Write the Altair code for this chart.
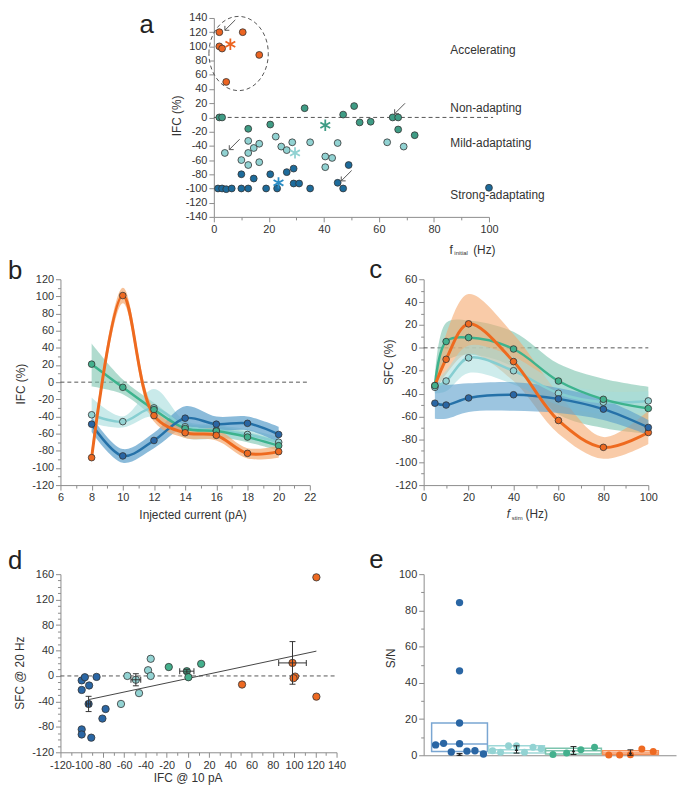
import altair as alt
import pandas as pd

FONT = "Liberation Sans"
TXT = "#333333"
AXC = "#8c8c8c"
DASH = "#555555"

# ---------------- colours ----------------
A_COL = {"acc": "#EC6421", "non": "#3F9C85", "mild": "#91D2D2", "str": "#1D6B9B"}
L_COL = {"acc": "#EE6A1F", "non": "#3DB38D", "mild": "#86CED1", "str": "#2571A8"}
B_COL = {"acc": "#F5A86E", "non": "#7CC3AE", "mild": "#A5DCDC", "str": "#5A9ECB"}
P_COL = {"acc": "#EE6A22", "non": "#44B08D", "mild": "#93D3D3", "str": "#2A66A4"}
E_BOX = {"acc": "#F5915A", "non": "#7CC4AE", "mild": "#9ED8D8", "str": "#7AA6D2"}

# ---------------- panel a data ----------------
a_acc_x = [2, 10.5, 2, 3, 16.5, 4.5]
a_acc_y = [120, 120, 100, 97, 88, 50]
a_non_x = [2, 3, 12.5, 20.5, 33, 47, 51, 53, 57, 65, 67, 67, 73]
a_non_y = [0, 0, -16, -10, 13, 4, 16, -7, -6, 0, 0, -17, -25]
a_mild_x = [4, 12.5, 10, 12.5, 14.5, 16.5, 12.5, 16.5, 22.5, 24.5, 26.5, 28.5, 35, 40.5, 43, 40.5, 45, 63, 69]
a_mild_y = [-50, -33, -60, -50, -43, -37, -67, -63, -27, -41, -46, -35, -35, -55, -57, -70, -36, -35, -41]
a_str_x = [1.5, 3, 4.5, 6.5, 10, 12.5, 10, 14.5, 19, 20.5, 23, 26.5, 29, 29, 31, 35, 45, 47, 49, 100]
a_str_y = [-100, -100, -101, -100, -100, -100, -80, -86, -100, -80, -100, -77, -72, -93, -93, -100, -92, -100, -67, -99]
a_star_x = [6, 40.5, 29.5, 23.5]
a_star_y = [103, -11, -50, -92]
a_star_g = ["acc", "non", "mild", "str"]
a_arrow_x = [5.9, 7.5, 67.6, 48.2]
a_arrow_y = [130, -38, 12.6, -82]
a_ellipse_x = [9]
a_ellipse_y = [90]
a_cat_labels = ["Accelerating", "Non-adapting", "Mild-adaptating", "Strong-adaptating"]

# ---------------- panel b data ----------------
b_x = [8, 10, 12, 14, 16, 18, 20]
b_acc = [-88, 101, -39, -59, -62, -83, -81]
b_acc_lo = [-96, 92, -46, -65, -68, -89, -88]
b_acc_hi = [-80, 110, -31, -53, -55, -77, -74]
b_non = [21, -6, -32, -54, -57, -64, -74]
b_non_lo = [-5, -14, -40, -60, -63, -70, -80]
b_non_hi = [45, 3, -24, -48, -51, -58, -68]
b_mild = [-38, -46, -30, -52, -56, -61, -70]
b_mild_lo = [-48, -53, -40, -65, -66, -67, -76]
b_mild_hi = [-18, -40, -8, -45, -50, -55, -64]
b_str = [-49, -86, -68, -42, -49, -48, -61]
b_str_lo = [-58, -94, -77, -53, -57, -56, -70]
b_str_hi = [-40, -78, -59, -28, -40, -40, -52]

# ---------------- panel c data ----------------
c_x = [5, 10, 20, 40, 60, 80, 100]
c_acc = [-33, -10, 21, -12, -63.5, -87, -74]
c_acc_lo = [-38, -23, -5, -29, -75, -97, -84]
c_acc_hi = [-28, 12, 47, 12, -40, -78, -55]
c_non = [-33, 5.5, 9, -1, -29, -45, -53]
c_non_lo = [-40, -12, -6, -17, -58, -70, -75]
c_non_hi = [-25, 22, 24, 14, -14, -27, -34]
c_mild = [-34.5, -29, -8.7, -20, -39.7, -47.5, -46.4]
c_mild_lo = [-40, -38, -22, -32, -50, -58, -56]
c_mild_hi = [-30, -20, 2, -8, -30, -38, -38]
c_str = [-48.4, -50, -43.8, -41, -44.6, -53.6, -69.6]
c_str_lo = [-62, -62, -56, -55, -57, -63, -76]
c_str_hi = [-29, -32, -31, -30, -35, -45, -63]

# ---------------- panel d data ----------------
d_str_x = [-100, -97, -100, -93, -86, -93.5, -100, -100, -91, -77.5, -80.5]
d_str_y = [-7, -2, -22, -15, -1.5, -44, -84, -92, -97, -52, -67]
d_mild_x = [-57, -49, -46, -63, -37.5, -35, -35]
d_mild_y = [0, -6, -27, -44, 9, 0, 27]
d_non_x = [-18, -1, 0.5, 12.5]
d_non_y = [14, 7.5, -2, 19]
d_acc_x = [51, 98.5, 101, 99.5, 121, 121]
d_acc_y = [-13.5, 20.5, -1, -3.5, 155, -32.5]
d_fit_x = [-93, 121]
d_fit_y = [-37, 39]
d_mean_x = [-93.5, -49, -1, 98.5]
d_mean_y = [-44, -6, 7.5, 20.5]
d_err_x = [2, 4.6, 6.7, 13]
d_err_y = [12, 9.5, 3, 33.5]

# ---------------- panel e data ----------------
e_str_x = [0.58, 0.72, 1.0, 1.0, 1.0, 1.0, 0.855, 1.13, 1.27, 1.42]
e_str_y = [5.7, 6.6, 84.3, 46.6, 17.8, 6.4, 1.8, 2.3, 2.5, 0.7]
e_mild_x = [1.58, 1.72, 1.86, 2.0, 2.14, 2.29, 2.43]
e_mild_y = [2.5, 1.6, 5.2, 5.2, 1.6, 4.4, 3.6]
e_non_x = [2.64, 2.88, 3.13, 3.37]
e_non_y = [0.4, 1.2, 3.0, 4.4]
e_acc_x = [3.62, 3.81, 4.0, 4.2, 4.4]
e_acc_y = [0.2, 0.2, 0.3, 3.4, 2.1]
e_grp = ["str", "mild", "non", "acc"]
e_pos = [1, 2, 3, 4]
e_box_lo = [2.1, 1.2, 0.7, 0.35]
e_box_hi = [17.8, 5.2, 3.9, 2.5]
e_box_med = [6.2, 3.0, 2.5, 1.2]
e_mean = [0.5, 3.2, 2.6, 1.5]
e_err = [0.5, 2.0, 2.2, 1.5]

# ---------------- helpers ----------------
ELLIPSE = "M -0.8 0 A 0.8 1 0 1 1 0.8 0 A 0.8 1 0 1 1 -0.8 0 Z"
STAR = "M0,-1L0,1M-0.87,-0.5L0.87,0.5M-0.87,0.5L0.87,-0.5"
ARROW = "M1,-1L-1,1M-1,1L-1,0.15M-1,1L-0.15,1"


def mk_axis(values, test=None, major=5, minor=3):
    kw = dict(values=values, grid=False, title="", domainColor=AXC, domainWidth=1,
              tickColor=AXC, tickWidth=1, labelColor=TXT, labelFont=FONT,
              labelFontSize=11, labelPadding=2, labelOverlap=False, labelFlush=False)
    if test is None:
        kw["tickSize"] = major
        kw["labelExpr"] = "'' + datum.value"
    else:
        kw["tickSize"] = {"condition": {"test": test, "value": major}, "value": minor}
        kw["labelExpr"] = "(" + test + ") ? '' + datum.value : ''"
    return alt.Axis(**kw)


def enc_pair(xdom, ydom, xaxis, yaxis):
    sx = alt.Scale(domain=xdom, nice=False, zero=False)
    sy = alt.Scale(domain=ydom, nice=False, zero=False)
    X = lambda f="x": alt.X(f + ":Q", scale=sx, axis=xaxis)
    Y = lambda f="y": alt.Y(f + ":Q", scale=sy, axis=yaxis)
    return X, Y


def frame(L, T, W, H, R, B):
    return alt.Chart(pd.DataFrame({"f": [0]})).mark_rect(opacity=0).encode(
        x=alt.value(-L), x2=alt.value(W + R), y=alt.value(-T), y2=alt.value(H + B))


def label(s, x, y, size=12, angle=0, align="center", baseline="middle", style="normal", color=TXT):
    return alt.Chart(pd.DataFrame({"t": [s]})).mark_text(
        font=FONT, fontSize=size, angle=angle, align=align, baseline=baseline,
        fontStyle=style, color=color).encode(x=alt.value(x), y=alt.value(y), text="t:N")


def pts(xs, ys, X, Y, color, size, stroke="#333333", sw=0.8):
    df = pd.DataFrame({"x": xs, "y": ys})
    if stroke:
        m = alt.Chart(df).mark_circle(size=size, fill=color, opacity=1, stroke=stroke, strokeWidth=sw)
    else:
        m = alt.Chart(df).mark_circle(size=size, fill=color, opacity=1)
    return m.encode(x=X(), y=Y())


def hrule(x0, x1, y0, X, Y):
    df = pd.DataFrame({"x": [x0], "x2": [x1], "y": [y0]})
    return alt.Chart(df).mark_rule(color=DASH, strokeDash=[4, 3], strokeWidth=1).encode(
        x=X(), x2=alt.X2("x2:Q"), y=Y())


def band(xs, lo, hi, X, Y, color, op):
    df = pd.DataFrame({"x": xs, "lo": lo, "hi": hi})
    return alt.Chart(df).mark_area(interpolate="catmull-rom", color=color, opacity=op).encode(
        x=X(), y=Y("lo"), y2=alt.Y2("hi:Q"))


def curve(xs, ys, X, Y, color, w):
    df = pd.DataFrame({"x": xs, "y": ys})
    return alt.Chart(df).mark_line(interpolate="catmull-rom", color=color, strokeWidth=w).encode(
        x=X(), y=Y())


def shape_pts(xs, ys, X, Y, shape, size, color, sw, dash=None):
    df = pd.DataFrame({"x": xs, "y": ys})
    kw = dict(shape=shape, size=size, filled=False, color=color, strokeWidth=sw, opacity=1)
    if dash:
        kw["strokeDash"] = dash
    return alt.Chart(df).mark_point(**kw).encode(x=X(), y=Y())


# ================= panel a =================
AW, AH = 278, 201
Xa, Ya = enc_pair([0, 100], [-140, 140],
                  mk_axis(list(range(0, 101, 10)), "datum.value % 20 === 0"),
                  mk_axis(list(range(-140, 141, 20))))
a_layers = [
    frame(154, 6, AW, AH, 190, 40),
    hrule(0, 101.5, 0, Xa, Ya),
    shape_pts(a_ellipse_x, a_ellipse_y, Xa, Ya, ELLIPSE, 5625, DASH, 1, [4, 3]),
    pts(a_str_x, a_str_y, Xa, Ya, A_COL["str"], 48),
    pts(a_mild_x, a_mild_y, Xa, Ya, A_COL["mild"], 48),
    pts(a_non_x, a_non_y, Xa, Ya, A_COL["non"], 48),
    pts(a_acc_x, a_acc_y, Xa, Ya, A_COL["acc"], 48),
]
for sx_, sy_, g in zip(a_star_x, a_star_y, a_star_g):
    a_layers.append(shape_pts([sx_], [sy_], Xa, Ya, STAR, 130, A_COL[g] if g != "str" else "#2A8CC4", 1.8))
a_layers.append(shape_pts(a_arrow_x, a_arrow_y, Xa, Ya, ARROW, 110, DASH, 1))
for txt, yy in zip(a_cat_labels, [32, 91, 126, 179]):
    a_layers.append(label(txt, 239, yy, align="left"))
a_layers += [
    label("IFC (%)", -37, 99, angle=270),
    label("f", 238, 234, align="left"),
    label("initial", 243, 238, size=6, align="left"),
    label("(Hz)", 262, 234, align="left"),
    label("a", -75, 15, size=26, align="left", baseline="alphabetic", color="#222222"),
]
panel_a = alt.layer(*a_layers).properties(width=AW, height=AH)
spacer = frame(53, 6, 1, 1, -1, -1).properties(width=1, height=1)

# ================= panel b =================
BW, BH = 252, 208
Xb, Yb = enc_pair([6, 22], [-120, 120],
                  mk_axis(list(range(6, 23, 1)), "datum.value % 2 === 0"),
                  mk_axis(list(range(-120, 121, 10)), "datum.value % 20 === 0"))
b_layers = [
    frame(53, 22, BW, BH, 57, 47),
    hrule(6, 22, 0, Xb, Yb),
    band(b_x, b_non_lo, b_non_hi, Xb, Yb, B_COL["non"], 0.6),
    band(b_x, b_mild_lo, b_mild_hi, Xb, Yb, B_COL["mild"], 0.6),
    band(b_x, b_str_lo, b_str_hi, Xb, Yb, B_COL["str"], 0.7),
    band(b_x, b_acc_lo, b_acc_hi, Xb, Yb, B_COL["acc"], 0.7),
    curve(b_x, b_mild, Xb, Yb, L_COL["mild"], 2.5),
    curve(b_x, b_non, Xb, Yb, L_COL["non"], 2.5),
    curve(b_x, b_str, Xb, Yb, L_COL["str"], 2.5),
    curve(b_x, b_acc, Xb, Yb, L_COL["acc"], 3),
    pts(b_x, b_mild, Xb, Yb, P_COL["mild"], 45),
    pts(b_x, b_non, Xb, Yb, P_COL["non"], 45),
    pts(b_x, b_str, Xb, Yb, P_COL["str"], 45),
    pts(b_x, b_acc, Xb, Yb, P_COL["acc"], 45),
    label("IFC (%)", -40, 106, angle=270),
    label("Injected current (pA)", 134, 238),
    label("b", -53, 0, size=26, align="left", baseline="alphabetic", color="#222222"),
]
panel_b = alt.layer(*b_layers).properties(width=BW, height=BH)

# ================= panel c =================
CW, CH = 227, 208
Xc, Yc = enc_pair([0, 100], [-120, 60],
                  mk_axis(list(range(0, 101, 10)), "datum.value % 20 === 0"),
                  mk_axis(list(range(-120, 61, 10)), "datum.value % 20 === 0"))
c_layers = [
    frame(58, 23, CW, CH, 28, 46),
    hrule(0, 100, 0, Xc, Yc),
    band(c_x, c_non_lo, c_non_hi, Xc, Yc, B_COL["non"], 0.6),
    band(c_x, c_acc_lo, c_acc_hi, Xc, Yc, B_COL["acc"], 0.6),
    band(c_x, c_mild_lo, c_mild_hi, Xc, Yc, B_COL["mild"], 0.55),
    band(c_x, c_str_lo, c_str_hi, Xc, Yc, B_COL["str"], 0.6),
    curve(c_x, c_mild, Xc, Yc, L_COL["mild"], 2.5),
    curve(c_x, c_non, Xc, Yc, L_COL["non"], 2.5),
    curve(c_x, c_str, Xc, Yc, L_COL["str"], 2.5),
    curve(c_x, c_acc, Xc, Yc, L_COL["acc"], 3),
    pts(c_x, c_acc, Xc, Yc, P_COL["acc"], 45),
    pts(c_x, c_mild, Xc, Yc, P_COL["mild"], 45),
    pts(c_x, c_non, Xc, Yc, P_COL["non"], 45),
    pts(c_x, c_str, Xc, Yc, P_COL["str"], 45),
    label("SFC (%)", -35, 84, angle=270),
    label("f", 84, 237, align="left", style="italic"),
    label("stim", 89, 241, size=6, align="left"),
    label("(Hz)", 103, 237, align="left"),
    label("c", -55, -1, size=26, align="left", baseline="alphabetic", color="#222222"),
]
panel_c = alt.layer(*c_layers).properties(width=CW, height=CH)

# ================= panel d =================
DW, DH = 279, 180
Xd, Yd = enc_pair([-120, 140], [-120, 160],
                  mk_axis(list(range(-120, 141, 10)), "datum.value % 20 === 0"),
                  mk_axis(list(range(-120, 161, 10)), "datum.value % 40 === 0"))
err_df = pd.DataFrame({"x": d_mean_x, "y": d_mean_y, "ex": d_err_x, "ey": d_err_y})
err_df["y0"] = err_df["y"] - err_df["ey"]
err_df["y1"] = err_df["y"] + err_df["ey"]
err_df["x0"] = err_df["x"] - err_df["ex"]
err_df["x1"] = err_df["x"] + err_df["ex"]
ERRC = "#333333"
d_layers = [
    frame(53, 43, DW, DH, 30, 28),
    hrule(-120, 140, 0, Xd, Yd),
    alt.Chart(pd.DataFrame({"x": d_fit_x, "y": d_fit_y})).mark_line(color="#444444", strokeWidth=1).encode(x=Xd(), y=Yd()),
    pts(d_str_x, d_str_y, Xd, Yd, P_COL["str"], 55),
    pts(d_mild_x, d_mild_y, Xd, Yd, P_COL["mild"], 55),
    pts(d_non_x, d_non_y, Xd, Yd, P_COL["non"], 55),
    pts(d_acc_x, d_acc_y, Xd, Yd, P_COL["acc"], 55),
    alt.Chart(err_df).mark_rule(color=ERRC, strokeWidth=1).encode(x=Xd(), y=Yd("y0"), y2=alt.Y2("y1:Q")),
    alt.Chart(err_df).mark_rule(color=ERRC, strokeWidth=1).encode(x=Xd("x0"), x2=alt.X2("x1:Q"), y=Yd()),
    alt.Chart(err_df).mark_tick(color=ERRC, orient="horizontal", size=6, thickness=1, opacity=1).encode(x=Xd(), y=Yd("y0")),
    alt.Chart(err_df).mark_tick(color=ERRC, orient="horizontal", size=6, thickness=1, opacity=1).encode(x=Xd(), y=Yd("y1")),
    alt.Chart(err_df).mark_tick(color=ERRC, orient="vertical", size=6, thickness=1, opacity=1).encode(x=Xd("x0"), y=Yd()),
    alt.Chart(err_df).mark_tick(color=ERRC, orient="vertical", size=6, thickness=1, opacity=1).encode(x=Xd("x1"), y=Yd()),
    label("SFC @ 20 Hz", -41, 100, angle=270),
    label("IFC @ 10 pA", 129, 206),
    label("d", -53, -5, size=26, align="left", baseline="alphabetic", color="#222222"),
]
panel_d = alt.layer(*d_layers).properties(width=DW, height=DH)

# ================= panel e =================
EW, EH = 255, 183
xe_axis = alt.Axis(domainColor=AXC, domainWidth=1, ticks=False, labels=False, grid=False, title="")
Xe, Ye = enc_pair([0.37, 4.8], [0, 100], xe_axis,
                  mk_axis(list(range(0, 101, 10)), "datum.value % 20 === 0"))
e_layers = [frame(58, 40, EW, EH, 0, 24)]
for g, p, lo, hi, md in zip(e_grp, e_pos, e_box_lo, e_box_hi, e_box_med):
    bdf = pd.DataFrame({"x": [p - 0.49], "x2": [p + 0.49], "y": [lo], "y2": [hi], "m": [md]})
    e_layers.append(alt.Chart(bdf).mark_rect(fill="transparent", stroke=E_BOX[g], strokeWidth=1.5).encode(
        x=Xe(), x2=alt.X2("x2:Q"), y=Ye(), y2=alt.Y2("y2:Q")))
    e_layers.append(alt.Chart(bdf).mark_rule(color=E_BOX[g], strokeWidth=1.5).encode(
        x=Xe(), x2=alt.X2("x2:Q"), y=Ye("m")))
e_layers += [
    pts(e_str_x, e_str_y, Xe, Ye, P_COL["str"], 55, stroke=None),
    pts(e_mild_x, e_mild_y, Xe, Ye, P_COL["mild"], 50, stroke=None),
    pts(e_non_x, e_non_y, Xe, Ye, P_COL["non"], 50, stroke=None),
    pts(e_acc_x, e_acc_y, Xe, Ye, P_COL["acc"], 50, stroke=None),
]
edf = pd.DataFrame({"x": e_pos, "y": e_mean, "e": e_err})
edf["y0"] = (edf["y"] - edf["e"]).clip(lower=0)
edf["y1"] = edf["y"] + edf["e"]
e_layers += [
    alt.Chart(edf).mark_rule(color="#222222", strokeWidth=1).encode(x=Xe(), y=Ye("y0"), y2=alt.Y2("y1:Q")),
    alt.Chart(edf).mark_tick(color="#222222", orient="horizontal", size=6, thickness=1, opacity=1).encode(x=Xe(), y=Ye("y0")),
    alt.Chart(edf).mark_tick(color="#222222", orient="horizontal", size=6, thickness=1, opacity=1).encode(x=Xe(), y=Ye("y1")),
    alt.Chart(edf).mark_point(shape="triangle-up", size=14, filled=True, color="#222222", opacity=1).encode(x=Xe(), y=Ye()),
    label("S/N", -33, 85, angle=270),
    label("e", -55, -6, size=26, align="left", baseline="alphabetic", color="#222222"),
]
panel_e = alt.layer(*e_layers).properties(width=EW, height=EH)

row1 = alt.hconcat(spacer, panel_a, spacing=0, bounds="full")
row2 = alt.hconcat(panel_b, panel_c, spacing=0, bounds="full")
row3 = alt.hconcat(panel_d, panel_e, spacing=0, bounds="full")
chart = alt.vconcat(row1, row2, row3, spacing=0, bounds="full").properties(
    padding=0, background="white").configure_view(strokeWidth=0)

chart.save("out.html", embed_options={"renderer": "svg", "actions": False})
